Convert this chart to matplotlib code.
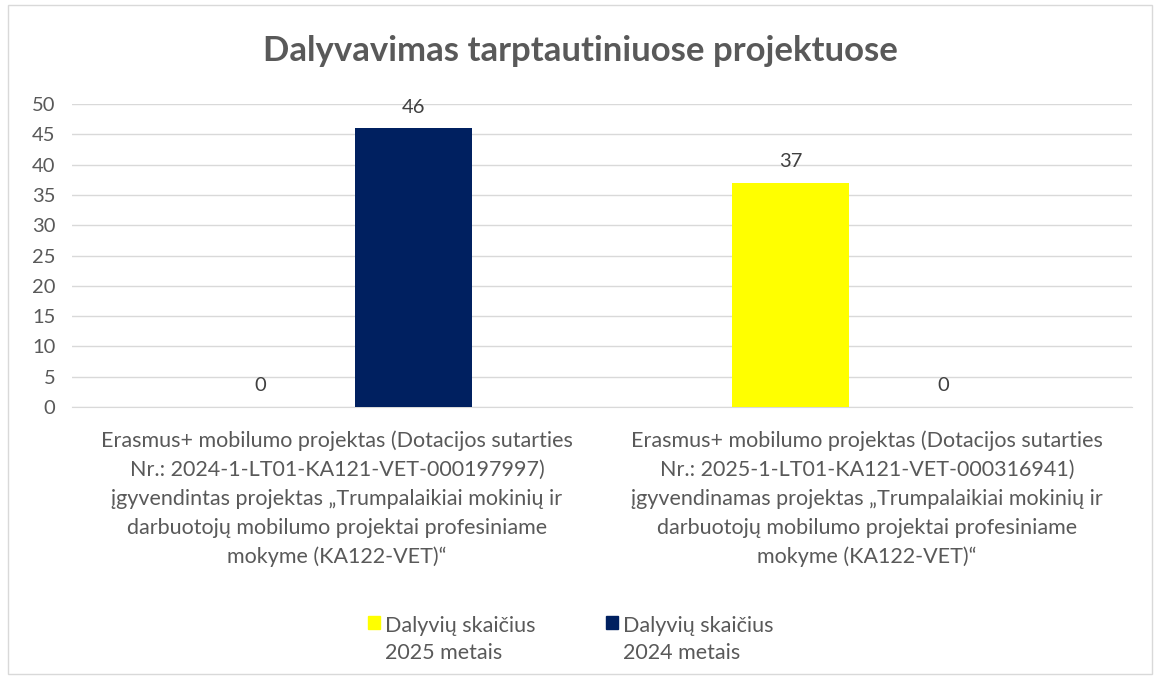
import numpy as np
import matplotlib.pyplot as plt
from matplotlib.patches import Rectangle, Patch

# --- Données ---
categories = [
    "Erasmus+ mobilumo projektas (Dotacijos sutarties\nNr.: 2024-1-LT01-KA121-VET-000197997)\n"
    "įgyvendintas projektas „Trumpalaikiai mokinių ir\ndarbuotojų mobilumo projektai profesiniame\nmokyme (KA122-VET)“",
    "Erasmus+ mobilumo projektas (Dotacijos sutarties\nNr.: 2025-1-LT01-KA121-VET-000316941)\n"
    "įgyvendinamas projektas „Trumpalaikiai mokinių ir\ndarbuotojų mobilumo projektai profesiniame\nmokyme (KA122-VET)“",
]
series_names = ["Dalyvių skaičius\n2025 metais", "Dalyvių skaičius\n2024 metais"]
vals_2025 = [0, 37]
vals_2024 = [46, 0]
colors = ["#FFFF00", "#002060"]
title = "Dalyvavimas tarptautiniuose projektuose"

plt.rcParams['font.family'] = ['Lato', 'DejaVu Sans']
txt_col = "#595959"

fig = plt.figure(figsize=(11.6, 6.79), dpi=100)
ax = fig.add_axes([0.062, 0.4006, 0.914, 0.4462])

x = np.arange(len(categories))
w = 0.22
off = 0.144
for vals, col, dx in [(vals_2025, colors[0], -off), (vals_2024, colors[1], off)]:
    bars = ax.bar(x + dx, vals, width=w, color=col, zorder=3)
    for b, v in zip(bars, vals):
        ax.annotate(str(v), (b.get_x() + b.get_width() / 2, v), xytext=(0, 9),
                    textcoords="offset points", ha="center", va="bottom",
                    fontsize=14.5, color="#404040")

ax.set_xlim(-0.5, 1.5)
ax.set_ylim(0, 50)
ax.set_yticks(range(0, 51, 5))
ax.grid(axis="y", color="#d9d9d9", lw=1, zorder=0)
for s in ["top", "right", "left"]:
    ax.spines[s].set_visible(False)
ax.spines["bottom"].set_color("#d9d9d9")
ax.tick_params(axis="y", length=0, labelsize=14.5, colors=txt_col, pad=12)
ax.set_xticks(x)
ax.set_xticklabels(categories, fontsize=15.5, color=txt_col, linespacing=1.55)
ax.tick_params(axis="x", length=0, pad=17)

fig.suptitle(title, x=0.5, y=0.948, fontsize=25, fontweight="bold", color=txt_col)

handles = [Patch(color=c) for c in colors]
leg = fig.legend(handles, series_names, loc="center", bbox_to_anchor=(0.492, 0.058),
                 ncol=2, frameon=False, fontsize=15.5, handlelength=0.55, handleheight=0.55,
                 columnspacing=3.25, handletextpad=0.25, labelcolor=txt_col)
for t in leg.get_texts():
    t.set_linespacing(1.4)
# carrés alignés sur la première ligne du texte
for col in leg._legend_handle_box.get_children():
    for item in col.get_children():
        item.align = "top"

fig.patches.append(Rectangle((0.007, 0.008), 0.986, 0.984, transform=fig.transFigure,
                             fill=False, edgecolor="#d9d9d9", lw=1))

fig.savefig("out.png", dpi=100)
